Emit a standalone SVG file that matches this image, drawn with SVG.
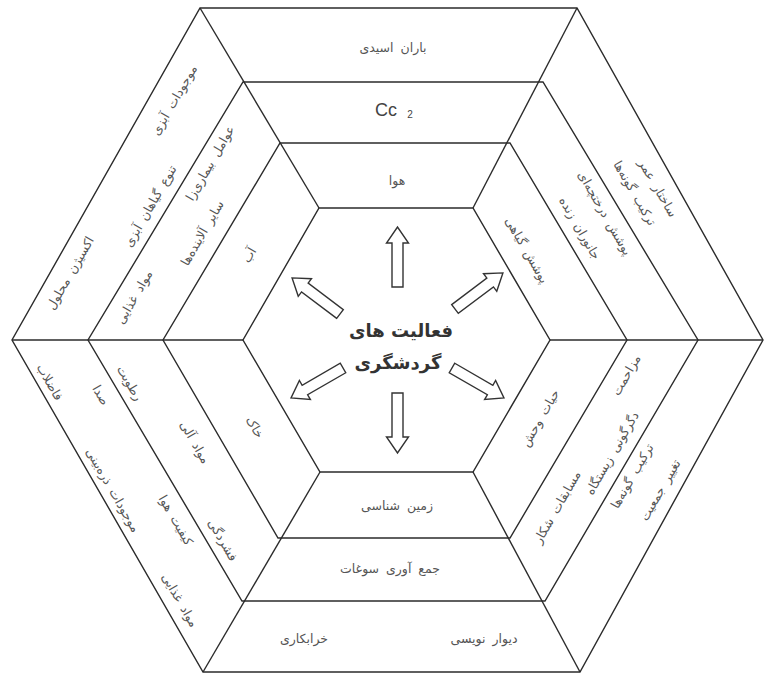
<svg xmlns="http://www.w3.org/2000/svg" width="764" height="675" viewBox="0 0 764 675">
<style>
.hex{fill:none;stroke:#2b2b2b;stroke-width:1.4;stroke-linejoin:miter}
.rad{stroke:#2b2b2b;stroke-width:1.4}
.lbl{font-family:"DejaVu Sans",sans-serif;font-size:12.5px;word-spacing:3px;fill:#555;text-anchor:middle;dominant-baseline:central}
.big{font-family:"DejaVu Sans",sans-serif;font-size:18px;font-weight:bold;fill:#333;text-anchor:middle;dominant-baseline:central}
.arr{fill:#fff;stroke:#333;stroke-width:1.4;stroke-linejoin:miter}
</style>
<defs>
<polygon id="arrow" points="0,-5.5 44,-5.5 44,-11 60,0 44,11 44,5.5 0,5.5"/>
</defs>
<rect width="764" height="675" fill="#fff"/>
<g id="frame">
<polygon class="hex" points="200,8 577,8 763,340 580,672 203,672 12,340"/>
<polygon class="hex" points="243,82 543,82 698,340 545,601 242,601 88,340"/>
<polygon class="hex" points="280,143 510,143 627,340 510,538 278,538 163,340"/>
<polygon class="hex" points="319,208 473,208 550,340 473,472 320,472 243,340"/>
<line class="rad" x1="200" y1="8" x2="319" y2="208"/>
<line class="rad" x1="577" y1="8" x2="473" y2="208"/>
<line class="rad" x1="763" y1="340" x2="550" y2="340"/>
<line class="rad" x1="580" y1="672" x2="473" y2="472"/>
<line class="rad" x1="203" y1="672" x2="320" y2="472"/>
<line class="rad" x1="12" y1="340" x2="243" y2="340"/>
</g>
<g id="connectors">
<use href="#arrow" class="arr" transform="translate(397.5,287) rotate(-90)"/>
<use href="#arrow" class="arr" transform="translate(397.5,393) rotate(90)"/>
<use href="#arrow" class="arr" transform="translate(340,314) rotate(-143)"/>
<use href="#arrow" class="arr" transform="translate(455,309) rotate(-37)"/>
<use href="#arrow" class="arr" transform="translate(343,368) rotate(150)"/>
<use href="#arrow" class="arr" transform="translate(452,368) rotate(30)"/>
</g>
<g id="center">
<text class="big" x="401" y="330">فعالیت های</text>
<text class="big" x="398" y="362">گردشگری</text>
</g>
<g id="top">
<text class="lbl" x="393" y="47" font-size="13">باران اسیدی</text>
<text x="386" y="110" font-family="Liberation Sans,Arial,sans-serif" font-size="18" fill="#444" text-anchor="middle" dominant-baseline="central">Cc</text>
<text x="410" y="114" font-family="Liberation Sans,Arial,sans-serif" font-size="10" fill="#444" text-anchor="middle" dominant-baseline="central">2</text>
<text class="lbl" x="397" y="180">هوا</text>
</g>
<g id="upper-left">
<text class="lbl" transform="translate(174,100) rotate(-60)">موجودات آبزی</text>
<text class="lbl" transform="translate(150,206) rotate(-60)">تنوع گیاهان آبزی</text>
<text class="lbl" transform="translate(70,273) rotate(-60)">اکسیژن محلول</text>
<text class="lbl" transform="translate(210,163) rotate(-60)">عوامل بیماری‌زا</text>
<text class="lbl" transform="translate(202,233) rotate(-60)">سایر آلاینده‌ها</text>
<text class="lbl" transform="translate(134,297) rotate(-60)">مواد غذایی</text>
<text class="lbl" transform="translate(249,255) rotate(-60)">آب</text>
</g>
<g id="upper-right">
<text class="lbl" transform="translate(658,188) rotate(60)">ساختار عمر</text>
<text class="lbl" transform="translate(635,193) rotate(60)">ترکیب گونه‌ها</text>
<text class="lbl" transform="translate(605,213) rotate(60)">پوشش درختچه‌ای</text>
<text class="lbl" transform="translate(580,228) rotate(60)">جانوران زنده</text>
<text class="lbl" transform="translate(527,250) rotate(60)">پوشش گیاهی</text>
</g>
<g id="lower-right">
<text class="lbl" transform="translate(540,418) rotate(-60)">حیات وحش</text>
<text class="lbl" transform="translate(626,375) rotate(-60)">مزاحمت</text>
<text class="lbl" transform="translate(557,507) rotate(-60)">مسابقات شکار</text>
<text class="lbl" transform="translate(612,453) rotate(-60)">دگرگونی زیستگاه</text>
<text class="lbl" transform="translate(632,476) rotate(-60)">ترکیب گونه‌ها</text>
<text class="lbl" transform="translate(660,490) rotate(-60)">تغییر جمعیت</text>
</g>
<g id="lower-left">
<text class="lbl" transform="translate(50,382) rotate(60)">فاضلاب</text>
<text class="lbl" transform="translate(101,395) rotate(60)">صدا</text>
<text class="lbl" transform="translate(113,490) rotate(60)">موجودات ذره‌بینی</text>
<text class="lbl" transform="translate(176,520) rotate(60)">کیفیت هوا</text>
<text class="lbl" transform="translate(180,600) rotate(60)">مواد غذایی</text>
<text class="lbl" transform="translate(130,383) rotate(60)">رطوبت</text>
<text class="lbl" transform="translate(195,442) rotate(60)">مواد آلی</text>
<text class="lbl" transform="translate(223,540) rotate(60)">فشردگی</text>
<text class="lbl" transform="translate(255,427) rotate(60)">خاک</text>
</g>
<g id="bottom">
<text class="lbl" x="397" y="505" font-size="13">زمین شناسی</text>
<text class="lbl" x="390" y="568" font-size="13">جمع آوری سوغات</text>
<text class="lbl" x="304" y="638" font-size="13">خرابکاری</text>
<text class="lbl" x="484" y="638" font-size="13">دیوار نویسی</text>
</g>
</svg>
